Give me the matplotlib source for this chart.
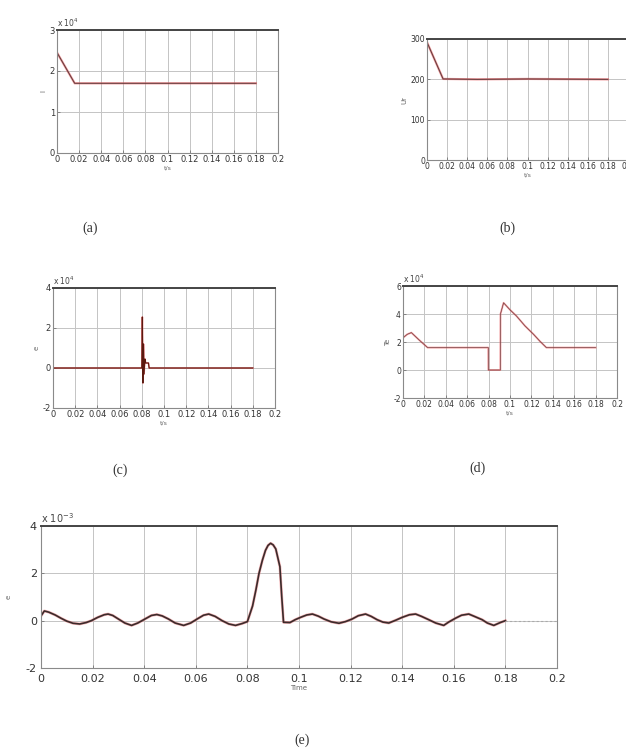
import matplotlib
matplotlib.use("Agg")
import matplotlib.pyplot as plt
import numpy as np
from matplotlib.ticker import FormatStrFormatter

# (a) value (x 10^4)
t_a = [0.0, 0.016, 0.18]
v_a = [2.45, 1.70, 1.70]

# (b)
t_b = [0.0, 0.016, 0.05, 0.10, 0.18]
v_b = [292, 201, 200, 201, 200]

# (c) spike near 0.08
t_c = [0.0, 0.0800, 0.0805, 0.0810, 0.0815, 0.0820, 0.0828, 0.0835, 0.0850, 0.0860, 0.0866, 0.0875, 0.18]
v_c = [0.0, 0.0, 2.55, -0.75, 1.2, -0.3, 0.45, 0.25, 0.25, 0.25, 0.0, 0.0, 0.0]

# (d)
t_d = [0.0, 0.0040, 0.0078, 0.015, 0.023, 0.0797, 0.0798, 0.091, 0.0911, 0.094,
       0.100, 0.106, 0.114, 0.122, 0.128, 0.134, 0.18]
v_d = [2.30, 2.55, 2.67, 2.15, 1.60, 1.60, 0.0, 0.0, 4.0, 4.80,
       4.30, 3.86, 3.15, 2.55, 2.05, 1.60, 1.60]

# (e) error signal (x 10^-3)
t_e = [0.0, 0.0013, 0.003, 0.0055, 0.0078, 0.010, 0.0124, 0.015, 0.0175, 0.0195,
       0.022, 0.0245, 0.026, 0.0278, 0.030, 0.0325, 0.0351, 0.0375, 0.0403, 0.0428,
       0.0449, 0.047, 0.0494, 0.052, 0.0553, 0.058, 0.0605, 0.063, 0.065, 0.0675,
       0.0702, 0.0728, 0.0754, 0.078, 0.080, 0.082, 0.0833, 0.0845, 0.0858, 0.087,
       0.088, 0.089, 0.090, 0.091, 0.0926, 0.0933, 0.094, 0.0965, 0.0985, 0.1006,
       0.103, 0.1052, 0.1075, 0.1097, 0.1125, 0.1155, 0.118, 0.1206, 0.123, 0.1258,
       0.128, 0.1303, 0.1325, 0.1348, 0.1375, 0.140, 0.1428, 0.1452, 0.1475, 0.1503,
       0.153, 0.1561, 0.158, 0.1606, 0.163, 0.1658, 0.168, 0.171, 0.173, 0.1755,
       0.178, 0.180]
v_e = [0.20, 0.41, 0.36, 0.24, 0.10, -0.02, -0.11, -0.14, -0.08, 0.0,
       0.14, 0.25, 0.28, 0.22, 0.07, -0.10, -0.20, -0.10, 0.07, 0.22,
       0.26, 0.20, 0.07, -0.10, -0.20, -0.10, 0.07, 0.23, 0.28, 0.18,
       0.0, -0.14, -0.20, -0.12, -0.04, 0.62, 1.30, 2.00, 2.55, 2.97,
       3.18, 3.27, 3.20, 3.03, 2.28, 1.03, -0.07, -0.08, 0.04, 0.14,
       0.24, 0.28, 0.19, 0.07, -0.05, -0.11, -0.04, 0.07, 0.21, 0.28,
       0.18, 0.04, -0.06, -0.10, 0.02, 0.14, 0.25, 0.28, 0.18, 0.04,
       -0.10, -0.20, -0.06, 0.10, 0.23, 0.28, 0.18, 0.04, -0.10, -0.20,
       -0.08, 0.0]

W, H = 626, 752
fig = plt.figure(figsize=(W / 100, H / 100), dpi=100)


def box(l, r, t, b):
    return [l / W, 1 - b / H, (r - l) / W, (b - t) / H]


def style(ax, yticks, fs, xlabel, ylabel, expo=None, efs=None):
    ax.set_xlim(0, 0.2)
    ax.set_ylim(yticks[0], yticks[-1])
    ax.set_xticks(np.arange(0, 0.2001, 0.02))
    ax.set_yticks(yticks)
    ax.xaxis.set_major_formatter(FormatStrFormatter('%g'))
    ax.yaxis.set_major_formatter(FormatStrFormatter('%g'))
    ax.grid(True, color='#c4c4c4', lw=0.7)
    ax.tick_params(labelsize=fs, length=2, width=0.5, color='#666', pad=1.5,
                   direction='in', labelcolor='#333')
    for s in ax.spines.values():
        s.set_color('#8a8a8a')
        s.set_linewidth(0.8)
    ax.spines['top'].set_color('#444')
    ax.spines['top'].set_linewidth(1.4)
    ax.set_xlabel(xlabel, fontsize=4.5, labelpad=1, color='#666')
    ax.set_ylabel(ylabel, fontsize=5, labelpad=2, color='#666')
    if expo:
        ax.text(0.0, 1.01, expo, transform=ax.transAxes, fontsize=efs or fs,
                va='bottom', ha='left', color='#444')


def trace(ax, t, v, dark_lw=0.7, red_lw=1.6):
    ax.plot(t, v, color='#e8666a', lw=red_lw, alpha=0.7, solid_joinstyle='round')
    ax.plot(t, v, color='#3a2626', lw=dark_lw, alpha=0.8, solid_joinstyle='round')


ax_a = fig.add_axes(box(57, 278, 30, 153))
trace(ax_a, t_a, v_a)
style(ax_a, [0, 1, 2, 3], 6, 't/s', 'I', r'x 10$^{4}$', 5.5)

ax_b = fig.add_axes(box(427, 628, 39, 160))
trace(ax_b, t_b, v_b)
style(ax_b, [0, 100, 200, 300], 5.5, 't/s', 'Ur')

ax_c = fig.add_axes(box(53, 275, 288, 408))
ax_c.plot(t_c, v_c, color='#e8666a', lw=1.2, alpha=0.8)
ax_c.plot(t_c, v_c, color='#5a1a10', lw=0.8)
style(ax_c, [-2, 0, 2, 4], 6, 't/s', 'e', r'x 10$^{4}$', 5.5)

ax_d = fig.add_axes(box(403, 617, 286, 398))
trace(ax_d, t_d, v_d, dark_lw=0.4, red_lw=1.3)
style(ax_d, [-2, 0, 2, 4, 6], 5.5, 't/s', 'Te', r'x 10$^{4}$', 5.5)

ax_e = fig.add_axes(box(41, 557, 526, 668))
ax_e.plot(t_e, v_e, color='#e8666a', lw=2.0, alpha=0.5, solid_joinstyle='round')
ax_e.plot(t_e, v_e, color='#3b2b2b', lw=1.2, solid_joinstyle='round')
ax_e.plot([0.18, 0.2], [0, 0], color='#aaaaaa', lw=0.8, ls=(0, (2, 2)))
style(ax_e, [-2, 0, 2, 4], 8, 'Time', 'e', r'x 10$^{-3}$', 7)
ax_e.tick_params(axis='y', pad=3)
ax_e.tick_params(axis='x', pad=4)
ax_e.xaxis.label.set_fontsize(5)
ax_e.yaxis.labelpad = 10

serif = ['Liberation Serif', 'DejaVu Serif']
for txt, x, y in [('(a)', 90, 228), ('(b)', 507, 228), ('(c)', 120, 470),
                  ('(d)', 477, 468), ('(e)', 302, 740)]:
    fig.text(x / W, 1 - y / H, txt, ha='center', va='center', fontsize=10,
             family=serif, color='#333')

fig.savefig('out.png', dpi=100)
